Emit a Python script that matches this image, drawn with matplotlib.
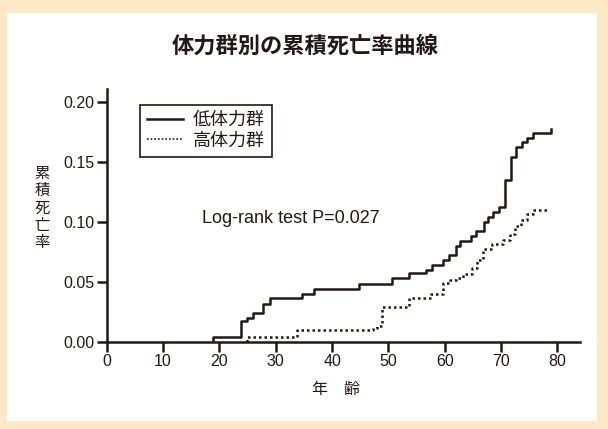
import matplotlib.pyplot as plt
from matplotlib.patches import Rectangle

plt.rcParams['font.family'] = ['Liberation Sans', 'Noto Sans CJK JP']

# 低体力群 (ステップの変化点)
age_low = [18.8, 18.8, 23.9, 24.9, 25.9, 27.8, 28.9, 34.7, 36.8, 44.7, 50.7, 53.7,
           56.7, 57.7, 59.7, 60.7, 61.9, 62.7, 64.6, 65.6, 66.9, 67.7, 68.6, 69.7,
           70.7, 71.8, 72.7, 73.7, 74.6, 75.7, 78.9, 78.9]
rate_low = [0.0, 0.004, 0.017, 0.020, 0.024, 0.031, 0.036, 0.040, 0.044, 0.048, 0.053,
            0.057, 0.060, 0.064, 0.068, 0.072, 0.080, 0.084, 0.088, 0.092, 0.100,
            0.104, 0.108, 0.112, 0.135, 0.154, 0.162, 0.166, 0.170, 0.174, 0.174, 0.177]

# 高体力群
age_high = [24.9, 24.9, 33.7, 47.2, 48.0, 48.8, 53.7, 57.6, 59.7, 61.0, 62.0, 63.3,
            64.8, 65.7, 66.8, 68.4, 70.4, 71.5, 72.5, 73.5, 74.6, 75.7, 78.3]
rate_high = [0.0, 0.004, 0.010, 0.011, 0.013, 0.029, 0.036, 0.040, 0.049, 0.051,
             0.053, 0.056, 0.061, 0.068, 0.077, 0.081, 0.085, 0.090, 0.096, 0.101,
             0.106, 0.110, 0.110]

x_ticks = [0, 10, 20, 30, 40, 50, 60, 70, 80]
y_ticks = [0.00, 0.05, 0.10, 0.15, 0.20]

ink = '#231815'

fig = plt.figure(figsize=(6.08, 4.29), dpi=100)
fig.patch.set_facecolor('#fde9c7')
fig.patches.append(Rectangle((0.0115, 0.0186), 0.9705, 0.951, transform=fig.transFigure,
                             facecolor='white', edgecolor='none', zorder=-10))

ax = fig.add_axes([0.1755, 0.2035, 0.7785, 0.5883])
ax.set_facecolor('none')

ax.plot(age_low, rate_low, drawstyle='steps-post', color=ink, lw=1.8, label='低体力群')
ax.plot(age_high, rate_high, drawstyle='steps-post', color=ink, lw=1.8,
        linestyle=(0, (1, 1.2)), label='高体力群')

ax.set_xlim(0, 84)
ax.set_ylim(0, 0.2103)
ax.set_xticks(x_ticks)
ax.set_yticks(y_ticks)
ax.set_yticklabels([f'{v:.2f}' for v in y_ticks])
for s in ['top', 'right']:
    ax.spines[s].set_visible(False)
for s in ['left', 'bottom']:
    ax.spines[s].set_linewidth(1.8)
    ax.spines[s].set_color(ink)
ax.tick_params(length=7, width=1.8, color=ink, labelsize=11.5, labelcolor=ink, pad=2)

leg = ax.legend(loc='upper left', bbox_to_anchor=(0.0704, 0.938), borderaxespad=0,
                fancybox=False, framealpha=1, edgecolor=ink, fontsize=13,
                handlelength=2.0, handletextpad=0.5, labelspacing=0.2,
                borderpad=0.4)
leg.get_frame().set_linewidth(1.2)
for t in leg.get_texts():
    t.set_color(ink)
leg.get_lines()[1].set_linewidth(1.2)

ax.text(16.9, 0.103, 'Log-rank test P=0.027', fontsize=13, color=ink,
        ha='left', va='center')

fig.text(0.502, 0.89, '体力群別の累積死亡率曲線', fontsize=16, fontweight='bold',
         color=ink, ha='center', va='center')
fig.text(0.069, 0.514, '累\n積\n死\n亡\n率', fontsize=11, color=ink,
         ha='center', va='center', linespacing=1.3)
fig.text(0.553, 0.092, '年　齢', fontsize=11.5, color=ink, ha='center', va='center')

fig.savefig('out.png', dpi=100, facecolor=fig.get_facecolor())
